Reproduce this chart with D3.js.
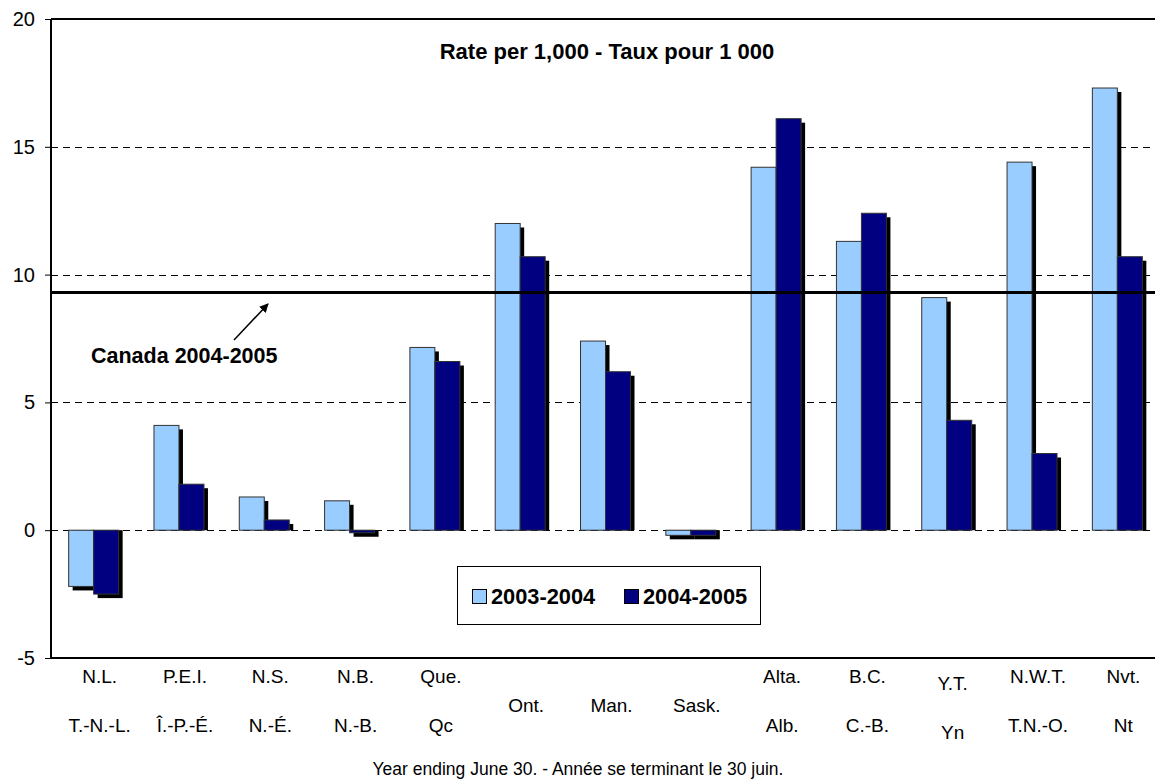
<!DOCTYPE html>
<html><head><meta charset="utf-8">
<script src="https://cdn.jsdelivr.net/npm/d3@7"></script>
<style>body{margin:0;background:#fff}svg{display:block;font-family:"Liberation Sans",Arial,sans-serif}</style>
</head><body>
<script>
const codesEn = ["N.L.","P.E.I.","N.S.","N.B.","Que.","Ont.","Man.","Sask.","Alta.","B.C.","Y.T.","N.W.T.","Nvt."];
const codesFr = ["T.-N.-L.","Î.-P.-É.","N.-É.","N.-B.","Qc","Ont.","Man.","Sask.","Alb.","C.-B.","Yn","T.N.-O.","Nt"];
const series = ["2003-2004","2004-2005"];
const rate0304 = [-2.2,4.1,1.3,1.15,7.15,12.0,7.4,-0.2,14.2,11.3,9.1,14.4,17.3];
const rate0405 = [-2.5,1.8,0.4,-0.1,6.6,10.7,6.2,-0.2,16.1,12.4,4.3,3.0,10.7];
const canadaRate = 9.3;
const yTicks = [-5,0,5,10,15,20];
const colors = ["#99CCFF","#000080"];

(function(){
const W=1155,H=780;
const svg=d3.select("body").append("svg").attr("width",W).attr("height",H);
const pL=51, pR=1160, pT=19, pB=658;
const x=d3.scaleBand().domain(d3.range(codesEn.length)).range([pL,pR]).paddingInner(0);
const y=d3.scaleLinear().domain([-5,20]).range([pB,pT]);
const bw=x.bandwidth();
const barW=bw*0.293;
const xs=d3.scaleBand().domain([0,1]).range([bw/2-barW,bw/2+barW]);

svg.append("g").selectAll("line").data(yTicks.filter(v=>v>-5&&v<20)).join("line")
 .attr("x1",pL).attr("x2",W).attr("y1",d=>Math.round(y(d))+0.5).attr("y2",d=>Math.round(y(d))+0.5)
 .attr("stroke","#000").attr("stroke-width",1).attr("stroke-dasharray","7,5");

const ax=svg.append("g").attr("transform",`translate(${pL},0)`)
 .call(d3.axisLeft(y).tickValues(yTicks).tickSize(6).tickPadding(10).tickFormat(d=>String(d)));
ax.select(".domain").attr("stroke","#000").attr("stroke-width",2).attr("d",`M0,${pT}V${pB}`);
ax.selectAll(".tick line").attr("stroke","#000");
ax.selectAll(".tick text").attr("font-size",20).attr("fill","#000").attr("font-family","Liberation Sans, Arial, sans-serif");
svg.append("line").attr("x1",pL).attr("x2",W).attr("y1",y(20)).attr("y2",y(20)).attr("stroke","#000").attr("stroke-width",2);
svg.append("line").attr("x1",pL).attr("x2",W).attr("y1",y(-5)).attr("y2",y(-5)).attr("stroke","#000").attr("stroke-width",2);

const data=[];
codesEn.forEach((c,i)=>{data.push({i,s:0,v:rate0304[i]});data.push({i,s:1,v:rate0405[i]});});
const bars=svg.append("g");
const sh=4;
data.forEach(d=>{
  const bx=x(d.i)+xs(d.s);
  let ya, yb;
  if(d.v>=0){ ya=y(d.v)+sh; yb=y(0); } else { ya=y(0); yb=y(d.v)+sh; }
  bars.append("rect").attr("x",bx+sh).attr("y",ya).attr("width",xs.bandwidth()).attr("height",Math.max(0,yb-ya)).attr("fill","#000");
});
data.forEach(d=>{
  const bx=x(d.i)+xs(d.s), y0=y(Math.max(0,d.v)), h=Math.abs(y(d.v)-y(0));
  bars.append("rect").attr("x",bx).attr("y",y0).attr("width",xs.bandwidth()).attr("height",h)
   .attr("fill",colors[d.s]).attr("stroke","#333").attr("stroke-width",1);
});

svg.append("line").attr("x1",pL).attr("x2",W).attr("y1",y(canadaRate)).attr("y2",y(canadaRate)).attr("stroke","#000").attr("stroke-width",3);
svg.append("defs").append("marker").attr("id","ah").attr("viewBox","0 0 10 10").attr("refX",9).attr("refY",5)
 .attr("markerWidth",6).attr("markerHeight",6).attr("orient","auto")
 .append("path").attr("d","M0,0L10,5L0,10Z").attr("fill","#000");
svg.append("line").attr("x1",234).attr("y1",340).attr("x2",268).attr("y2",304).attr("stroke","#000").attr("stroke-width",1.5).attr("marker-end","url(#ah)");
svg.append("text").attr("x",91).attr("y",363).attr("font-size",21.5).attr("font-weight","bold").text("Canada 2004-2005");

svg.append("text").attr("x",607).attr("y",59).attr("text-anchor","middle").attr("font-size",22).attr("font-weight","bold").text("Rate per 1,000 - Taux pour 1 000");

const lab=svg.append("g").attr("font-size",19).attr("text-anchor","middle");
codesEn.forEach((c,i)=>{
  const cx=x(i)+bw/2+6;
  if(codesEn[i]===codesFr[i]){
    lab.append("text").attr("x",cx).attr("y",712).text(c);
  } else {
    const off = c==="Y.T."?7:0;
    lab.append("text").attr("x",cx).attr("y",683+off).text(c);
    lab.append("text").attr("x",cx).attr("y",732+off).text(codesFr[i]);
  }
});

const lg=svg.append("g");
lg.append("rect").attr("x",457.5).attr("y",566.5).attr("width",303).attr("height",58).attr("fill","#fff").attr("stroke","#000").attr("stroke-width",1);
const lx=[472,624];
series.forEach((s,k)=>{
  lg.append("rect").attr("x",lx[k]+0.5).attr("y",589.5).attr("width",14).attr("height",14).attr("fill",colors[k]).attr("stroke","#000");
  lg.append("text").attr("x",lx[k]+19).attr("y",604).attr("font-size",21.8).attr("font-weight","bold").text(s);
});

svg.append("text").attr("x",578).attr("y",775).attr("text-anchor","middle").attr("font-size",17.5).text("Year ending June 30. - Année se terminant le 30 juin.");
})();
</script>
</body></html>
